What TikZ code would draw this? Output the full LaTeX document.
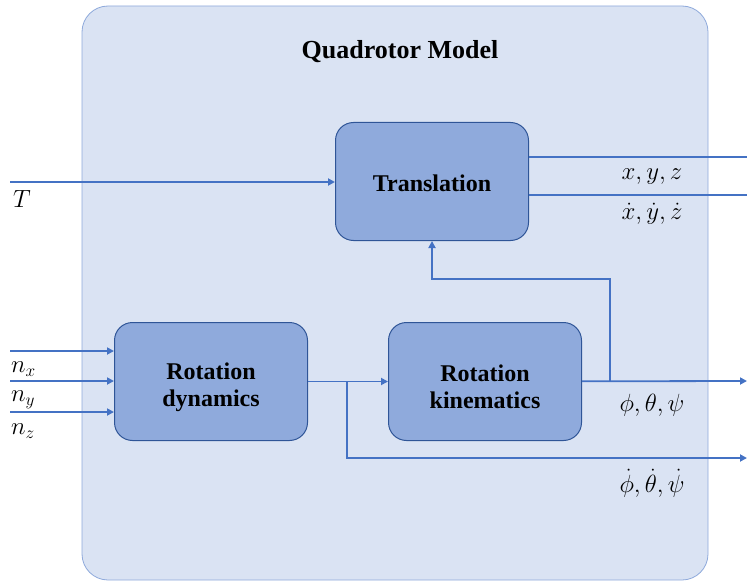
\documentclass[tikz,border=0pt]{standalone}
\usepackage{fontspec}
\setmainfont{Liberation Serif}
\usetikzlibrary{arrows.meta}
\definecolor{panelfill}{HTML}{DAE3F3}
\definecolor{paneledge}{HTML}{8EA9DB}
\definecolor{blockfill}{HTML}{8FAADC}
\definecolor{blockedge}{HTML}{2F5597}
\definecolor{wirecol}{HTML}{4472C4}
\begin{document}
\begin{tikzpicture}[x=1pt,y=-1pt,
  panel/.style={draw=paneledge, fill=panelfill, line width=0.8pt, rounded corners=26pt},
  block/.style={draw=blockedge, fill=blockfill, line width=1pt, rounded corners=18pt,
    minimum width=193pt, minimum height=118pt, align=center,
    font=\fontsize{24}{27}\selectfont\bfseries},
  wire/.style={draw=wirecol, line width=1.8pt},
  tip/.style={-{Triangle[length=7pt,width=7pt]}},
  lbl/.style={inner sep=0pt, font=\fontsize{23}{27}\selectfont}]
\useasboundingbox (0,0) rectangle (747,583);

% outer model panel
\draw[panel] (82,6) rectangle (708,580);
\node[font=\fontsize{26}{30}\selectfont\bfseries] (title) at (400,52) {Quadrotor Model};

% blocks (a top strut lowers the text slightly in each block)
\node[block] (trans) at (432,181.5) {\rule{0pt}{21pt}Translation};
\node[block] (rdyn) at (211,381.5) {\rule{0pt}{28pt}Rotation\\dynamics};
\node[block] (rkin) at (485,381.5) {\rule{0pt}{28pt}Rotation\\kinematics};

% thrust input
\coordinate (Tin) at (10,182);
\draw[wire,tip] (Tin) -- (Tin -| trans.west);
\node[lbl] (Tlbl) at (22,199) {$T$};

% torque inputs
\coordinate (nxin) at (10,351);
\coordinate (nyin) at (10,381);
\coordinate (nzin) at (10,412);
\draw[wire,tip] (nxin) -- (nxin -| rdyn.west);
\draw[wire,tip] (nyin) -- (nyin -| rdyn.west);
\draw[wire,tip] (nzin) -- (nzin -| rdyn.west);
\node[lbl, anchor=west] (nxl) at (11,369) {$n_x$};
\node[lbl, anchor=west] (nyl) at (11,400) {$n_y$};
\node[lbl, anchor=west] (nzl) at (11,431) {$n_z$};

% rotation dynamics -> kinematics, with rate output branch
\draw[wire,tip] (rdyn) -- (rkin);
\coordinate (b1) at (347,381);
\coordinate (rateout) at (747,458);
\draw[wire,tip] (b1) |- (rateout);
\node[lbl] (ratel) at (652,483) {$\dot\phi,\dot\theta,\dot\psi$};

% kinematics -> angle output, with feedback to translation
\coordinate (angout) at (747,381);
\draw[wire,tip] (rkin) -- (angout);
\coordinate (b2) at (610,381);
\coordinate (fb) at (610,279);
\draw[wire,tip] (b2) -- (fb) -| (trans.south);
\node[lbl] (angl) at (652,405) {$\phi,\theta,\psi$};

% translation outputs
\coordinate (posout) at (747,157);
\coordinate (velout) at (747,195);
\draw[wire] (trans.east |- posout) -- (posout);
\draw[wire] (trans.east |- velout) -- (velout);
\node[lbl] (posl) at (652,177) {$x,y,z$};
\node[lbl] (vell) at (652,214) {$\dot x,\dot y,\dot z$};
\end{tikzpicture}
\end{document}
